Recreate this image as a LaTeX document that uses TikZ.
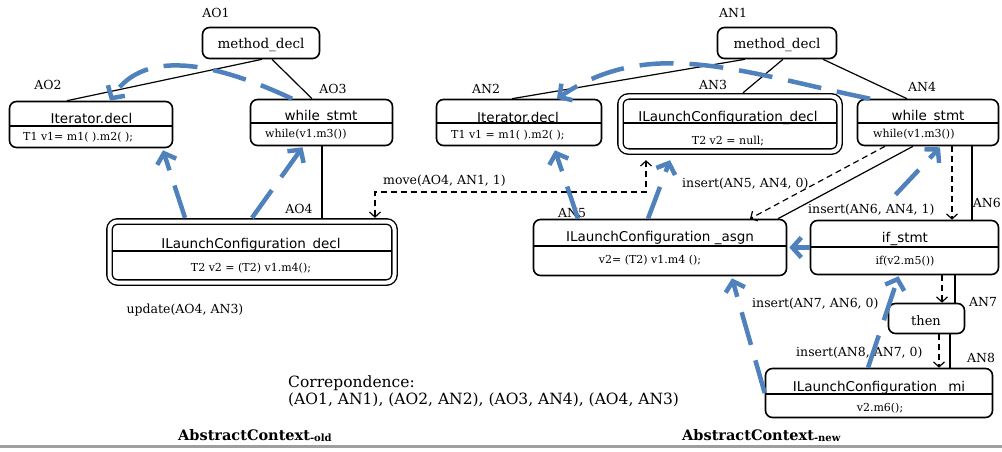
\documentclass[tikz,border=0pt]{standalone}
\usepackage{fontspec}
\setmainfont{DejaVu Serif}
\newfontfamily\boxfont{DejaVu Sans}
\usepackage{tikz}
\usetikzlibrary{positioning, calc, arrows.meta}

\definecolor{mapblue}{RGB}{79,129,189}

\tikzset{
  astbox/.style={draw, line width=1.6pt, rounded corners=7pt, inner sep=0pt},
  dblbox/.style={draw, line width=1.4pt, double, double distance=4pt, rounded corners=8pt, inner sep=0pt},
  divline/.style={line width=1.4pt},
  treeedge/.style={line width=1.2pt},
  boxtitle/.style={anchor=base, inner sep=0pt, font=\boxfont\fontsize{13.5}{16}\selectfont},
  boxserif/.style={anchor=base, inner sep=0pt, font=\fontsize{13.5}{16}\selectfont},
  boxcode/.style={anchor=base, inner sep=0pt, font=\fontsize{11}{13}\selectfont},
  lbl/.style={anchor=base, inner sep=0pt, font=\fontsize{12.5}{15}\selectfont},
  editop/.style={line width=1.2pt, dash pattern=on 6pt off 4pt},
  mapping/.style={draw=mapblue, line width=4.5pt, dash pattern=on 34pt off 16pt,
    -{Straight Barb[length=9pt,width=20pt]}},
}

\begin{document}
\begin{tikzpicture}[x=1pt, y=-1pt, >={Straight Barb[length=5pt,width=11pt]}]
\useasboundingbox (0,0) rectangle (1002,452);

% old tree
\node[astbox, minimum width=117pt, minimum height=31pt] (ao1) at (261,43) {};
\node[astbox, minimum width=163pt, minimum height=46pt] (ao2) at (91,124.5) {};
\node[astbox, minimum width=142pt, minimum height=46pt] (ao3) at (321.5,122.5) {};
\node[dblbox, minimum width=285pt, minimum height=61pt] (ao4) at (252,252) {};
\draw[divline] (9.5,126) -- (172.5,126);
\draw[divline] (250.5,123) -- (392.5,123);
\draw[divline] (112.8,251) -- (391.2,251);

\node[boxserif] at (261,48.5) {method\_decl};
\node[boxtitle] at (91.5,123) {Iterator.decl};
\node[boxcode, anchor=base west] at (23,140) {T1 v1= m1( ).m2( );};
\node[boxtitle] at (321,120.5) {while\_stmt};
\node[boxcode, anchor=base west] at (265,137) {while(v1.m3())};
\node[boxtitle] at (251,248) {ILaunchConfiguration\_decl};
\node[boxcode] at (251,271) {T2 v2 = (T2) v1.m4();};

\node[lbl] at (216,18) {AO1};
\node[lbl] at (48,90) {AO2};
\node[lbl] at (333,93) {AO3};
\node[lbl] at (299,213) {AO4};
\node[lbl] at (185,313) {update(AO4, AN3)};

\draw[treeedge] ([xshift=1pt]ao1.south) -- ([xshift=-24pt]ao2.north);
\draw[treeedge] ([xshift=11pt]ao1.south) -- ([xshift=-9.5pt]ao3.north);
\draw[treeedge] ([xshift=0.5pt]ao3.south) -- ([xshift=70pt,yshift=3pt]ao4.north);

% new tree
\node[astbox, minimum width=119pt, minimum height=31pt] (an1) at (777,43) {};
\node[astbox, minimum width=165pt, minimum height=46pt] (an2) at (519,122.5) {};
\node[dblbox, minimum width=219pt, minimum height=55pt] (an3) at (730,124) {};
\node[astbox, minimum width=141pt, minimum height=46pt] (an4) at (928,122.5) {};
\node[astbox, minimum width=253pt, minimum height=56pt] (an5) at (660,247.5) {};
\node[astbox, minimum width=188pt, minimum height=54pt] (an6) at (904.5,247.5) {};
\node[astbox, minimum width=76pt, minimum height=30pt] (an7) at (926.5,318.5) {};
\node[astbox, minimum width=227pt, minimum height=49pt] (an8) at (879,393) {};
\draw[divline] (436.5,123) -- (601.5,123);
\draw[divline] (623.8,123) -- (836.2,123);
\draw[divline] (857.5,123) -- (998.5,123);
\draw[divline] (533.5,246) -- (786.5,246);
\draw[divline] (810.5,247) -- (998.5,247);
\draw[divline] (765.5,394) -- (992.5,394);

\node[boxserif] at (777,48.5) {method\_decl};
\node[boxtitle] at (518,122) {Iterator.decl};
\node[boxcode, anchor=base west] at (451,138) {T1 v1 = m1( ).m2( );};
\node[boxtitle] at (728,121.5) {ILaunchConfiguration\_decl};
\node[boxcode] at (728,144) {T2 v2 = null;};
\node[boxtitle] at (928,121) {while\_stmt};
\node[boxcode, anchor=base west] at (873,137) {while(v1.m3())};
\node[boxtitle] at (660,241) {ILaunchConfiguration \_asgn};
\node[boxcode] at (650,263) {v2= (T2) v1.m4 ();};
\node[boxtitle] at (905,242) {if\_stmt};
\node[boxcode] at (905,264) {if(v2.m5())};
\node[boxserif, font=\fontsize{13}{15}\selectfont] at (926,325) {then};
\node[boxtitle] at (879,391) {ILaunchConfiguration \_mi};
\node[boxcode] at (880,411) {v2.m6();};

\node[lbl] at (733,18) {AN1};
\node[lbl] at (486,93) {AN2};
\node[lbl] at (713,90) {AN3};
\node[lbl] at (922,92) {AN4};
\node[lbl] at (572,217) {AN5};
\node[lbl, anchor=base east] at (1001,207) {AN6};
\node[lbl] at (983,306) {AN7};
\node[lbl] at (981,362) {AN8};

\draw[treeedge] ([xshift=-32pt]an1.south) -- ([xshift=-7pt]an2.north);
\draw[treeedge] ([xshift=6pt]an1.south) -- ([xshift=13pt,yshift=3pt]an3.north);
\draw[treeedge] ([xshift=46pt]an1.south) -- ([xshift=-21pt]an4.north);
\draw[treeedge] ([xshift=-15pt]an4.south) -- ([xshift=118pt]an5.north);
\draw[treeedge] ([xshift=44pt]an4.south) -- ([xshift=67.5pt]an6.north);
\draw[treeedge] ([xshift=50.5pt]an6.south) -- ([xshift=28.5pt]an7.north);
\draw[treeedge] ([xshift=23.5pt]an7.south) -- ([xshift=71pt]an8.north);

% edit script
\coordinate (mvcorner) at (646,192);
\draw[editop, <->] ([xshift=123pt,yshift=3pt]ao4.north) |- (mvcorner) -- ([xshift=-84pt,yshift=-8pt]an3.south);
\draw[editop, ->] ([xshift=-43pt]an4.south) -- ([xshift=90pt]an5.north);
\draw[editop, ->] ([xshift=24pt]an4.south) -- ([xshift=47.5pt]an6.north);
\draw[editop, ->] ([xshift=37.5pt]an6.south) -- ([xshift=15.5pt]an7.north);
\draw[editop, ->] ([xshift=12.5pt]an7.south) -- ([xshift=60pt]an8.north);

\node[lbl, anchor=base west] at (383,184) {move(AO4, AN1, 1)};
\node[lbl, anchor=base west] at (682,187) {insert(AN5, AN4, 0)};
\node[lbl, anchor=base west] at (808,213) {insert(AN6, AN4, 1)};
\node[lbl, anchor=base west] at (752,307) {insert(AN7, AN6, 0)};
\node[lbl, anchor=base west] at (796,356) {insert(AN8, AN7, 0)};

% mappings
\draw[mapping] ([xshift=-29.5pt]ao3.north) .. controls (222,66) and (145,45) .. ([xshift=19pt]ao2.north);
\draw[mapping] ([xshift=-67pt,yshift=3pt]ao4.north) -- ([xshift=72pt,yshift=-2pt]ao2.south);
\draw[mapping] ([yshift=3pt]ao4.north) -- ([xshift=-19pt,yshift=-1pt]ao3.south);
\draw[mapping] ([xshift=-58pt]an4.north) .. controls (740,72) and (650,36) .. ([xshift=38pt]an2.north);
\draw[mapping] ([xshift=-82pt]an5.north) -- ([xshift=36pt,yshift=-4pt]an2.south);
\draw[mapping] ([xshift=-12pt]an5.north) -- ([xshift=-60pt,yshift=-8pt]an3.south);
\draw[mapping] ([xshift=-9pt,yshift=25pt]an6.north) -- ([xshift=12pt,yshift=-1pt]an4.south);
\draw[mapping] (an6.west) -- ([xshift=2pt]an5.east);
\draw[mapping] ([xshift=-11pt]an8.north) -- ([xshift=-6pt,yshift=-1pt]an6.south);
\draw[mapping] (an8.west) -- ([xshift=72pt,yshift=-2pt]an5.south);

% correspondence and captions
\node[lbl, anchor=base west, font=\fontsize{15.5}{18}\selectfont] at (288,387) {Correpondence:};
\node[lbl, anchor=base west, font=\fontsize{15.5}{18}\selectfont] at (288,404) {(AO1, AN1), (AO2, AN2), (AO3, AN4), (AO4, AN3)};
\node[lbl, anchor=base west, font=\bfseries\fontsize{14.5}{17}\selectfont] at (178,440) {AbstractContext\raisebox{-1.5pt}{\fontsize{10}{12}\selectfont -old}};
\node[lbl, anchor=base west, font=\bfseries\fontsize{14.5}{17}\selectfont] at (682,440) {AbstractContext\raisebox{-1.5pt}{\fontsize{10}{12}\selectfont -new}};
\draw[line width=3pt, gray!75] (0,446) -- (1002,446);
\end{tikzpicture}
\end{document}
